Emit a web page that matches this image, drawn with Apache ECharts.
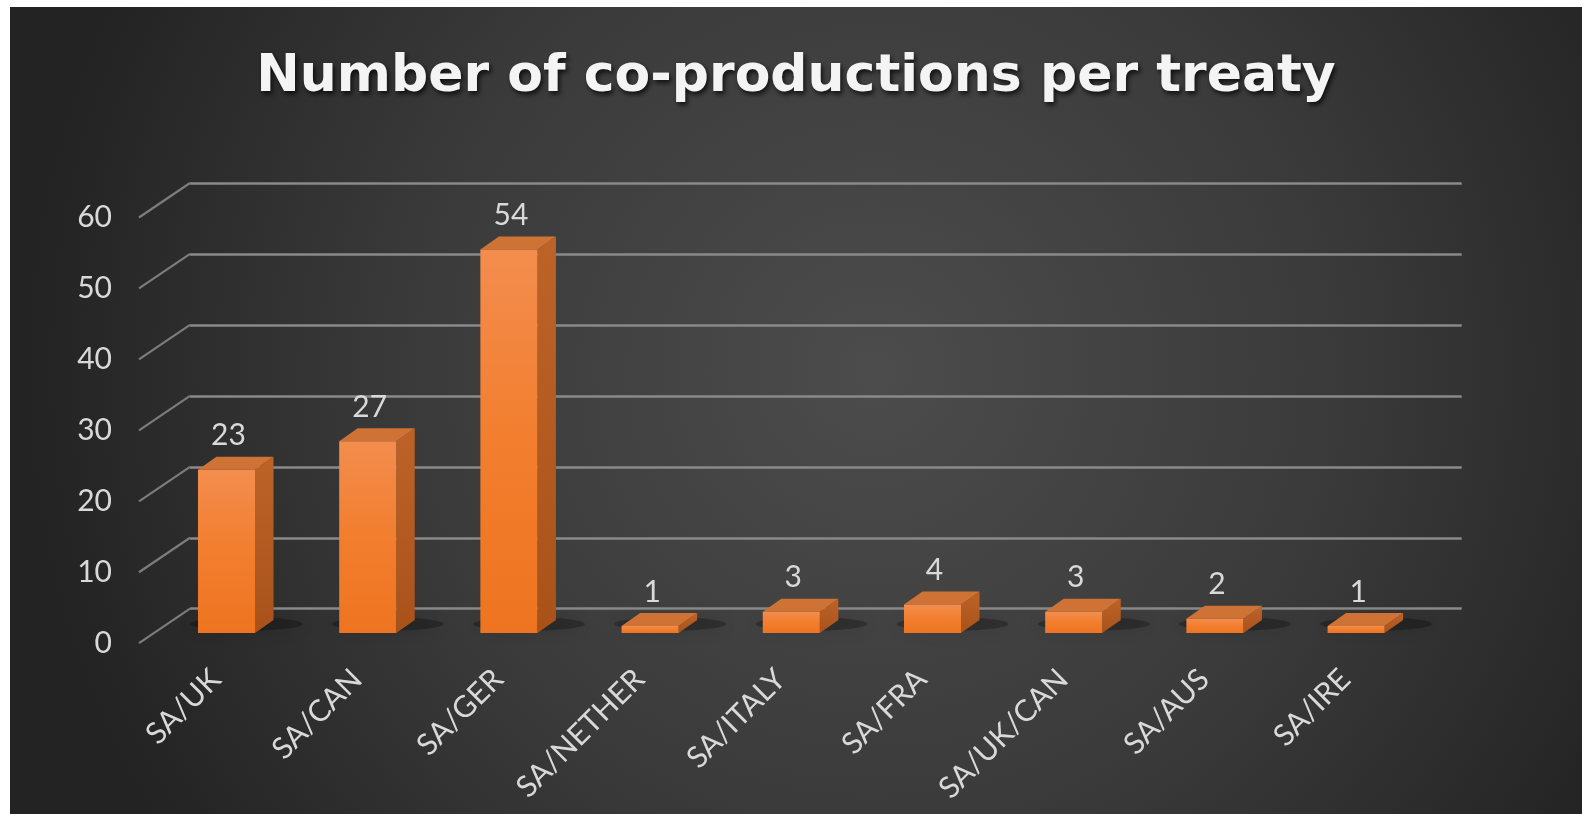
<!DOCTYPE html>
<html><head><meta charset="utf-8">
<script src="https://cdn.jsdelivr.net/npm/echarts@6/dist/echarts.min.js"></script>
<style>
html,body{margin:0;padding:0;background:#fff;width:1582px;height:814px;overflow:hidden}
#c{position:absolute;left:10px;top:7px;width:1572px;height:807px}
</style></head>
<body><div id="c"></div>
<script>
const chartTitle = 'Number of co-productions per treaty';
const categories = ['SA/UK','SA/CAN','SA/GER','SA/NETHER','SA/ITALY','SA/FRA','SA/UK/CAN','SA/AUS','SA/IRE'];
const values = [23, 27, 54, 1, 3, 4, 3, 2, 1];
const yTicks = [0, 10, 20, 30, 40, 50, 60];

// 3D look constants (styling)
const BAR_DX = 18.5, BAR_DY = -13;
const FLOOR_DX = -51, FLOOR_DY = 34.5;
const LABEL_FONT = 'Lato';
const TEXT_COLOR = '#d9d9d9';

const chart = echarts.init(document.getElementById('c'), null, {renderer: 'canvas'});

const option = {
  animation: false,
  backgroundColor: {
    type: 'radial', x: 0.55, y: 0.45, r: 1.05,
    colorStops: [{offset: 0, color: '#4c4c4c'}, {offset: 0.55, color: '#3a3a3a'}, {offset: 1, color: '#232323'}]
  },
  title: {
    text: chartTitle, left: 'center', top: 39,
    textStyle: {
      color: '#f4f4f4', fontFamily: 'DejaVu Sans', fontWeight: 'bold', fontSize: 52,
      textShadowColor: 'rgba(0,0,0,0.75)', textShadowBlur: 5, textShadowOffsetX: 2, textShadowOffsetY: 3
    }
  },
  grid: [
    {left: 180, right: 120.3, top: 176, bottom: 205.3},
    {left: 129, right: 120.3, top: 210.5, bottom: 170.8},
    {left: 145.9, right: 155.3, top: 200, bottom: 181}
  ],
  xAxis: [
    {gridIndex: 0, type: 'value', min: 0, max: 1, show: false},
    {gridIndex: 1, type: 'value', min: 0, max: 1, show: false},
    {gridIndex: 2, type: 'category', data: categories,
      axisLine: {show: false}, axisTick: {show: false},
      axisLabel: {rotate: 45, margin: 52, verticalAlign: 'bottom', color: TEXT_COLOR, fontSize: 30, fontFamily: LABEL_FONT, interval: 0}}
  ],
  yAxis: [
    {gridIndex: 0, type: 'value', min: 0, max: 60, interval: 10,
      axisLabel: {show: false}, axisLine: {show: false}, axisTick: {show: false},
      splitLine: {show: true, lineStyle: {color: '#8a8a8a', width: 2.5}}},
    {gridIndex: 1, type: 'value', min: 0, max: 60, interval: 10,
      axisLine: {show: false}, axisTick: {show: false}, splitLine: {show: false},
      axisLabel: {show: true, margin: 27, color: TEXT_COLOR, fontSize: 30, fontFamily: LABEL_FONT}},
    {gridIndex: 2, type: 'value', min: 0, max: 60, interval: 10, show: false}
  ],
  series: [
    {
      type: 'custom', xAxisIndex: 0, yAxisIndex: 0, silent: true,
      data: yTicks.map(v => [0, v]),
      renderItem: function (params, api) {
        const p = api.coord([0, api.value(1)]);
        return {type: 'line', shape: {x1: p[0], y1: p[1], x2: p[0] + FLOOR_DX, y2: p[1] + FLOOR_DY},
          style: {stroke: '#7c7c7c', lineWidth: 2.2}};
      }
    },
    {
      type: 'custom', xAxisIndex: 2, yAxisIndex: 2, silent: true,
      data: values.map((v, i) => [i, v]),
      renderItem: function (params, api) {
        const i = api.value(0), v = api.value(1);
        const base = api.coord([i, 0]);
        const top = api.coord([i, v]);
        const bw = api.size([1, 0])[0] * 0.404;
        const x0 = base[0] - bw / 2, x1 = base[0] + bw / 2, yb = base[1], yt = top[1];
        return {type: 'group', children: [
          {type: 'circle', x: base[0] + 20, y: yb - 9, scaleY: 0.12,
            shape: {cx: 0, cy: 0, r: 56},
            style: {fill: 'rgba(0,0,0,0.26)', shadowBlur: 18, shadowColor: 'rgba(0,0,0,0.5)'}},
          {type: 'polygon', shape: {points: [[x1, yt], [x1 + BAR_DX, yt + BAR_DY], [x1 + BAR_DX, yb + BAR_DY], [x1, yb]]},
            style: {fill: {type: 'linear', x: 0, y: 0, x2: 0, y2: 1,
              colorStops: [{offset: 0, color: '#bd6328'}, {offset: 1, color: '#a8521a'}]}}},
          {type: 'polygon', shape: {points: [[x0, yt], [x0 + BAR_DX, yt + BAR_DY], [x1 + BAR_DX, yt + BAR_DY], [x1, yt]]},
            style: {fill: '#cf7236'}},
          {type: 'rect', shape: {x: x0, y: yt, width: bw, height: yb - yt},
            style: {fill: {type: 'linear', x: 0, y: 0, x2: 0, y2: 1,
              colorStops: [{offset: 0, color: '#f38d4e'}, {offset: 0.5, color: '#f27e2e'}, {offset: 1, color: '#ee7420'}]}}},
          {type: 'text', style: {text: String(v), x: base[0] + 2, y: yt + BAR_DY - 21,
            align: 'center', verticalAlign: 'middle', fill: TEXT_COLOR, fontSize: 30, fontFamily: LABEL_FONT}}
        ]};
      }
    }
  ]
};
chart.setOption(option);
</script>
</body></html>
